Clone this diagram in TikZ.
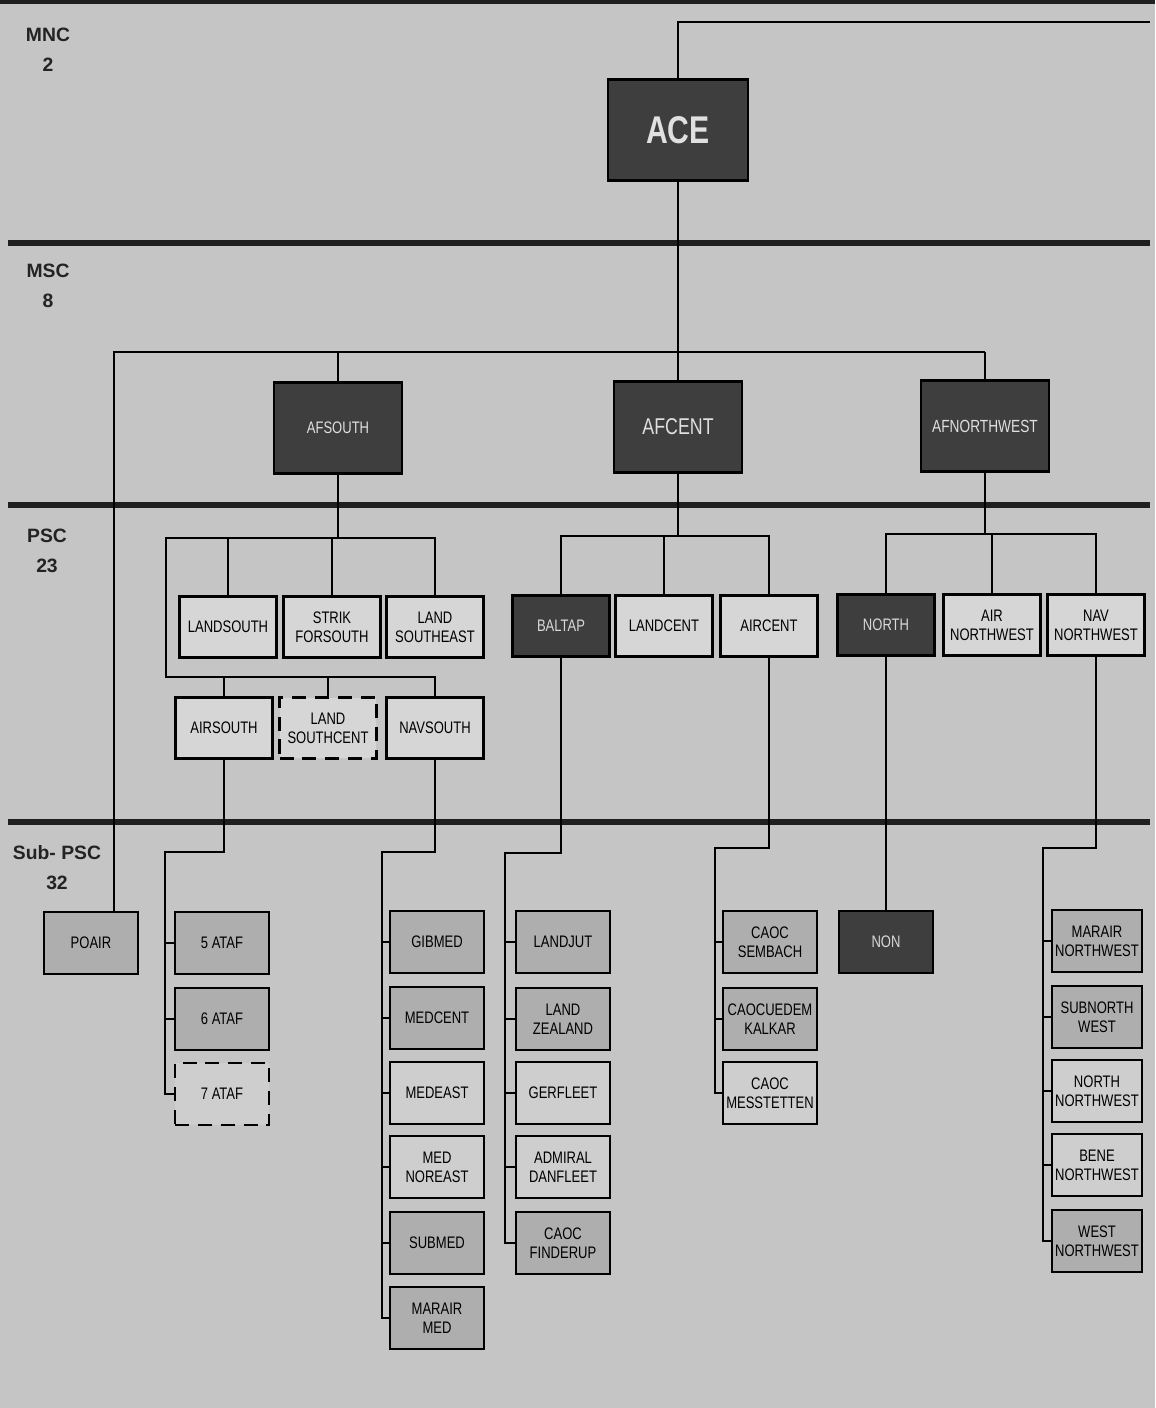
\documentclass[tikz,border=0pt]{standalone}
\usepackage{fontspec}
\setmainfont{Liberation Sans}
\newfontfamily\narrowfont{Liberation Sans}[FakeStretch=0.78]
\usepackage{tikz}
\usetikzlibrary{positioning}
\definecolor{pagegray}{RGB}{197,197,197}
\definecolor{hqgray}{RGB}{62,62,62}
\definecolor{pscgray}{RGB}{214,214,214}
\definecolor{subgray}{RGB}{174,174,174}
\definecolor{sublight}{RGB}{206,206,206}
\definecolor{labelgray}{RGB}{35,35,35}

\begin{document}
\begin{tikzpicture}[
  x=0.02cm, y=-0.02cm,
  every node/.style={align=center},
  box/.style={draw, line width=1.4pt, fill=pscgray, minimum width=1.94cm, minimum height=1.22cm,
    inner sep=1pt, font=\narrowfont\fontsize{9.5}{10.8}\selectfont},
  subbox/.style={box, fill=subgray, minimum width=1.88cm, minimum height=1.24cm},
  lightbox/.style={subbox, fill=sublight},
  pscdark/.style={box, fill=hqgray, text=white!85!black},
  hq/.style={box, fill=hqgray, text=white!88!black, minimum width=2.56cm, minimum height=1.82cm},
  planned/.style={dash pattern=on 8pt off 5pt},
  level/.style={font=\bfseries\fontsize{11}{17}\selectfont, text=labelgray},
  link/.style={line width=1.1pt},
  band/.style={line width=3.4pt, black!88}
]
\useasboundingbox (0,0) rectangle (1155,1408);
\fill[pagegray] (0,0) rectangle (1155,1408);

% Bands
\draw[band] (0,1) -- (1155,1);
\draw[band] (8,243) -- (1150,243);
\draw[band] (8,505) -- (1150,505);
\draw[band] (8,822) -- (1150,822);

% Levels
\node[level] (mnc) at (48,50) {MNC\\2};
\node[level] (msc) at (48,286) {MSC\\8};
\node[level] (psc) at (47,551) {PSC\\23};
\node[level] (subpsc) at (57,868) {Sub- PSC\\32};

% Nodes
\node[hq, minimum width=2.8cm, minimum height=2.02cm, font=\narrowfont\bfseries\fontsize{22}{24}\selectfont] (ACE) at (678,130) {ACE};
\node[hq, font=\narrowfont\fontsize{9.5}{11}\selectfont] (AFS) at (338,428) {AFSOUTH};
\node[hq, font=\narrowfont\fontsize{13}{15}\selectfont] (AFC) at (678,427) {AFCENT};
\node[hq, font=\narrowfont\fontsize{10}{12}\selectfont] (AFNW) at (985,426) {AFNORTHWEST};

\node[box] (LS) at (228,627) {LANDSOUTH};
\node[box] (SF) at (332,627) {STRIK\\FORSOUTH};
\node[box] (LSE) at (435,627) {LAND\\SOUTHEAST};
\node[box] (AIRS) at (224,728) {AIRSOUTH};
\node[box, planned] (LSC) at (328,728) {LAND\\SOUTHCENT};
\node[box] (NAVS) at (435,728) {NAVSOUTH};
\node[pscdark] (BALTAP) at (561,626) {BALTAP};
\node[box] (LC) at (664,626) {LANDCENT};
\node[box] (AC) at (769,626) {AIRCENT};
\node[pscdark] (NORTH) at (886,625) {NORTH};
\node[box] (ANW) at (992,625) {AIR\\NORTHWEST};
\node[box] (NNW) at (1096,625) {NAV\\NORTHWEST};

\node[subbox] (POAIR) at (91,943) {POAIR};
\node[subbox] (A5) at (222,943) {5 ATAF};
\node[subbox] (A6) at (222,1019) {6 ATAF};
\node[lightbox, planned] (A7) at (222,1094) {7 ATAF};

\node[subbox] (GIBMED) at (437,942) {GIBMED};
\node[subbox] (MEDCENT) at (437,1018) {MEDCENT};
\node[lightbox] (MEDEAST) at (437,1093) {MEDEAST};
\node[lightbox] (MEDNOR) at (437,1167) {MED\\NOREAST};
\node[subbox] (SUBMED) at (437,1243) {SUBMED};
\node[subbox] (MARMED) at (437,1318) {MARAIR\\MED};

\node[subbox] (LANDJUT) at (563,942) {LANDJUT};
\node[subbox] (ZEALAND) at (563,1019) {LAND\\ZEALAND};
\node[lightbox] (GERFLEET) at (563,1093) {GERFLEET};
\node[lightbox] (DANFLEET) at (563,1167) {ADMIRAL\\DANFLEET};
\node[subbox] (FINDERUP) at (563,1243) {CAOC\\FINDERUP};

\node[subbox] (SEMBACH) at (770,942) {CAOC\\SEMBACH};
\node[subbox] (KALKAR) at (770,1019) {CAOCUEDEM\\KALKAR};
\node[lightbox] (MESS) at (770,1093) {CAOC\\MESSTETTEN};

\node[subbox, fill=hqgray, text=white!85!black] (NON) at (886,942) {NON};

\node[subbox, minimum width=1.8cm] (MNW) at (1097,941) {MARAIR\\NORTHWEST};
\node[subbox, minimum width=1.8cm] (SNW) at (1097,1017) {SUBNORTH\\WEST};
\node[lightbox, minimum width=1.8cm] (NNWS) at (1097,1091) {NORTH\\NORTHWEST};
\node[lightbox, minimum width=1.8cm] (BNW) at (1097,1165) {BENE\\NORTHWEST};
\node[subbox, minimum width=1.8cm] (WNW) at (1097,1241) {WEST\\NORTHWEST};

% Lines
\coordinate (acetop) at (1150,22);
\coordinate (mscbus) at (114,352);
\draw[link] (ACE) |- (acetop);
\draw[link] (ACE) -- (AFC);
\draw[link] (mscbus -| AFNW) -- (mscbus) -- (mscbus |- POAIR.north);
\draw[link] (AFS) -- (AFS |- mscbus);
\draw[link] (AFNW) -- (AFNW |- mscbus);

\coordinate (sbus) at (166,538);
\coordinate (sbus2) at (166,677);
\draw[link] (AFS) -- (AFS |- sbus);
\draw[link] (LSE) -- (LSE |- sbus) -- (sbus) -- (sbus2) -- (sbus2 -| NAVS) -- (NAVS);
\foreach \n in {LS,SF} \draw[link] (\n) -- (\n |- sbus);
\foreach \n in {AIRS,LSC} \draw[link] (\n) -- (\n |- sbus2);

\coordinate (cbus) at (561,536);
\draw[link] (AFC) -- (AFC |- cbus);
\draw[link] (BALTAP) -- (cbus) -| (AC);
\draw[link] (LC) -- (LC |- cbus);

\coordinate (nbus) at (886,534);
\draw[link] (AFNW) -- (AFNW |- nbus);
\draw[link] (NORTH) -- (nbus) -| (NNW);
\draw[link] (ANW) -- (ANW |- nbus);

\coordinate (abus) at (165,852);
\draw[link] (AIRS) -- (AIRS |- abus) -- (abus) |- (A7);
\foreach \n in {A5,A6} \draw[link] (abus |- \n) -- (\n);

\coordinate (mbus) at (382,852);
\draw[link] (NAVS) -- (NAVS |- mbus) -- (mbus) |- (MARMED);
\foreach \n in {GIBMED,MEDCENT,MEDEAST,MEDNOR,SUBMED} \draw[link] (mbus |- \n) -- (\n);

\coordinate (bbus) at (505,853);
\draw[link] (BALTAP) -- (BALTAP |- bbus) -- (bbus) |- (FINDERUP);
\foreach \n in {LANDJUT,ZEALAND,GERFLEET,DANFLEET} \draw[link] (bbus |- \n) -- (\n);

\coordinate (ebus) at (715,848);
\draw[link] (AC) -- (AC |- ebus) -- (ebus) |- (MESS);
\foreach \n in {SEMBACH,KALKAR} \draw[link] (ebus |- \n) -- (\n);

\draw[link] (NORTH) -- (NON);

\coordinate (wbus) at (1043,848);
\draw[link] (NNW) -- (NNW |- wbus) -- (wbus) |- (WNW);
\foreach \n in {MNW,SNW,NNWS,BNW} \draw[link] (wbus |- \n) -- (\n);
\end{tikzpicture}
\end{document}
